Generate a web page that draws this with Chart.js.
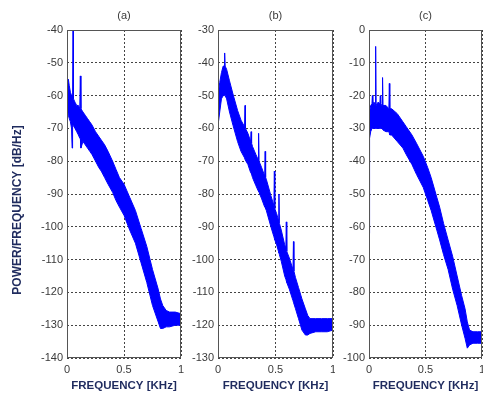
<!DOCTYPE html>
<html>
<head>
<meta charset="utf-8">
<title>Power spectral density</title>
<script src="https://cdn.jsdelivr.net/npm/chart.js@4.4.0/dist/chart.umd.min.js"></script>
<style>
    html, body { margin: 0; padding: 0; background: #ffffff; }
    #wrap { position: relative; width: 483px; height: 394px; overflow: hidden; }
    #wrap canvas { position: absolute; top: 0; }
</style>
</head>
<body>
<div id="wrap">
    <canvas id="chartA" width="190" height="394" style="left:0px"></canvas>
    <canvas id="chartB" width="145" height="394" style="left:190px"></canvas>
    <canvas id="chartC" width="148" height="394" style="left:335px"></canvas>
</div>
<script>
// Frequency axis ticks (kHz)
const xTicks = [0, 0.5, 1];

// Panel (a) - upper / lower edge of the noisy PSD band
const yTicksA = [-140, -130, -120, -110, -100, -90, -80, -70, -60, -50, -40];
const freqA = [0, 0.004, 0.012, 0.02, 0.03, 0.04, 0.045, 0.049, 0.053, 0.057,
    0.07, 0.085, 0.1, 0.112, 0.117, 0.122, 0.14, 0.16, 0.18, 0.2,
    0.22, 0.25, 0.28, 0.3, 0.33, 0.36, 0.4, 0.43, 0.46, 0.5,
    0.55, 0.6, 0.65, 0.7, 0.75, 0.8, 0.82, 0.84, 0.87, 0.9,
    0.95, 1];
const upperA = [-60, -56, -55, -57, -59, -60, -60, -61, -40, -61,
    -62, -63, -63, -64, -54, -64, -65, -66, -67, -68,
    -69, -71, -72.5, -73.5, -75, -77, -80, -82.5, -85, -87,
    -91, -95, -100.5, -106, -113, -119, -122, -124, -125.5, -126,
    -126, -126.5];
const lowerA = [-112, -64, -66, -67, -68, -70, -76, -69, -69, -69,
    -70, -71, -72, -73, -73, -76, -74, -75, -76, -77,
    -78, -80, -82, -83, -85, -87, -89.5, -92, -94, -96.5,
    -101, -105, -111, -117, -124, -129, -131, -131, -130.5, -130.5,
    -130, -130];

// Panel (b)
const yTicksB = [-130, -120, -110, -100, -90, -80, -70, -60, -50, -40, -30];
const freqB = [0, 0.004, 0.015, 0.03, 0.045, 0.054, 0.058, 0.062, 0.075, 0.1,
    0.13, 0.17, 0.2, 0.231, 0.235, 0.239, 0.26, 0.284, 0.288, 0.292,
    0.3, 0.33, 0.349, 0.353, 0.357, 0.38, 0.406, 0.41, 0.414, 0.42,
    0.46, 0.486, 0.49, 0.494, 0.51, 0.526, 0.53, 0.534, 0.55, 0.58,
    0.59, 0.594, 0.598, 0.62, 0.652, 0.656, 0.66, 0.674, 0.7, 0.73,
    0.76, 0.78, 0.8, 0.85, 0.9, 0.95, 1];
const upperB = [-51, -49, -46, -43, -41, -41, -37, -41, -42, -45.5,
    -49.5, -54.5, -57.5, -59.5, -53, -60, -61.5, -64, -61, -64.5,
    -65.5, -68, -69.5, -61.5, -70, -72, -74.5, -67, -75, -75.5,
    -80.5, -83.5, -73, -84.5, -86, -88, -80, -89, -91, -95.5,
    -96.5, -88.5, -97.5, -99.5, -103, -94.5, -103.5, -105.5, -108.5, -112,
    -115, -117, -118, -118, -118, -118, -118];
const lowerB = [-88, -58, -55, -51, -50, -50, -50, -50, -51, -55,
    -59, -64, -67, -69, -69.5, -69.5, -71, -73.5, -73.5, -74,
    -75, -77.5, -79, -79, -79.5, -81.5, -84, -84, -84.5, -85,
    -90, -93, -93.5, -94, -95.5, -97.5, -98, -98.5, -100.5, -105,
    -106, -106.5, -107, -109, -112.5, -113, -113, -115, -118, -121.5,
    -123, -123, -122.5, -122, -122, -122, -121.5];

// Panel (c)
const yTicksC = [-100, -90, -80, -70, -60, -50, -40, -30, -20, -10, 0];
const freqC = [0, 0.005, 0.015, 0.026, 0.03, 0.034, 0.045, 0.055, 0.059, 0.063,
    0.08, 0.096, 0.1, 0.104, 0.116, 0.12, 0.124, 0.15, 0.176, 0.18,
    0.184, 0.2, 0.25, 0.3, 0.33, 0.38, 0.42, 0.48, 0.52, 0.55,
    0.6, 0.625, 0.66, 0.7, 0.74, 0.78, 0.82, 0.85, 0.87, 0.89,
    0.92, 0.96, 1];
const upperC = [-30, -25, -23, -22.5, -20, -22.5, -22, -23, -5, -23,
    -22, -22.5, -20, -22.5, -23, -14.5, -23, -23, -24, -16.3,
    -24, -24, -25.5, -28, -29.5, -32, -34.5, -38.5, -42, -45,
    -51, -54, -59, -64, -69, -75, -81, -85, -89, -91.5,
    -92, -92, -92];
const lowerC = [-62, -33, -31, -30, -30, -30, -30, -30, -30, -30,
    -30, -30, -30, -30, -30, -30, -30.5, -31, -31, -31.5,
    -32, -32, -34, -36, -38, -41, -44, -48, -52, -55,
    -61, -64, -68.5, -73, -79, -84, -90, -94, -97, -96,
    -95.5, -95.5, -95.5];

const BLUE = '#0000ff';
const NAVY = '#1f2b5e';
const TICK = '#3a3a3a';
const GRID = '#444444';
const FONT = "'Liberation Sans', Arial, sans-serif";

// solid box around the plot area
const framePlugin = {
    id: 'frame',
    afterDatasetsDraw(chart) {
        const a = chart.chartArea;
        const ctx = chart.ctx;
        ctx.save();
        ctx.strokeStyle = '#555555';
        ctx.lineWidth = 1;
        ctx.strokeRect(Math.round(a.left) + 0.5, Math.round(a.top) + 0.5,
            Math.round(a.right - a.left) - 1, Math.round(a.bottom - a.top) - 1);
        ctx.restore();
    }
};

// shared y label, only on the first panel
const yLabelPlugin = {
    id: 'yLabel',
    afterDraw(chart) {
        const ctx = chart.ctx;
        ctx.save();
        ctx.translate(18, 210);
        ctx.rotate(-Math.PI / 2);
        ctx.font = 'bold 12px ' + FONT;
        ctx.fillStyle = NAVY;
        ctx.textAlign = 'center';
        ctx.textBaseline = 'middle';
        ctx.fillText('POWER/FREQUENCY [dB/Hz]', 0, 0);
        ctx.restore();
    }
};

function makePanel(id, label, freq, upper, lower, yTicks, yAxisWidth, rightPad, extra) {
    const canvas = document.getElementById(id);
    const toPoints = function (vals) {
        return freq.map(function (f, i) { return { x: f, y: vals[i] }; });
    };

    new Chart(canvas, {
        type: 'line',
        data: {
            datasets: [{
                data: toPoints(upper),
                xAxisID: 'x',
                borderColor: BLUE,
                backgroundColor: BLUE,
                borderWidth: 1,
                pointRadius: 0,
                tension: 0,
                fill: false
            }, {
                data: toPoints(lower),
                xAxisID: 'x',
                borderColor: BLUE,
                backgroundColor: BLUE,
                borderWidth: 1,
                pointRadius: 0,
                tension: 0,
                fill: '-1'
            }]
        },
        options: {
            responsive: false,
            animation: false,
            layout: { padding: { left: 0, right: rightPad, top: 0, bottom: 0 } },
            plugins: {
                legend: { display: false },
                tooltip: { enabled: false }
            },
            scales: {
                x: {
                    type: 'linear',
                    position: 'bottom',
                    min: xTicks[0],
                    max: xTicks[xTicks.length - 1],
                    afterBuildTicks: function (s) {
                        s.ticks = xTicks.map(function (v) { return { value: v }; });
                    },
                    ticks: {
                        padding: 5,
                        maxRotation: 0,
                        color: TICK,
                        font: { size: 11, family: FONT },
                        callback: function (v) { return String(v); }
                    },
                    grid: { color: GRID, drawTicks: false },
                    border: { display: false, dash: [2, 2] },
                    title: {
                        display: true,
                        text: 'FREQUENCY [KHz]',
                        color: NAVY,
                        font: { size: 11.5, weight: 'bold', family: FONT },
                        padding: { top: 0, bottom: 1.5 }
                    },
                    afterFit: function (s) {
                        s.height = 36;
                        s.paddingLeft = 0;
                        s.paddingRight = 0;
                    }
                },
                top: {
                    type: 'linear',
                    position: 'top',
                    min: 0,
                    max: 1,
                    ticks: { display: false },
                    grid: { display: false },
                    border: { display: false },
                    title: {
                        display: true,
                        text: label,
                        color: TICK,
                        font: { size: 11, family: FONT },
                        padding: { top: 9.5, bottom: 0 }
                    },
                    afterFit: function (s) { s.height = 30; }
                },
                y: {
                    type: 'linear',
                    min: yTicks[0],
                    max: yTicks[yTicks.length - 1],
                    afterBuildTicks: function (s) {
                        s.ticks = yTicks.map(function (v) { return { value: v }; });
                    },
                    ticks: {
                        padding: 4,
                        color: TICK,
                        font: { size: 11, family: FONT }
                    },
                    grid: { color: GRID, drawTicks: false },
                    border: { display: false, dash: [2, 2] },
                    afterFit: function (s) { s.width = yAxisWidth; }
                }
            }
        },
        plugins: [framePlugin].concat(extra || [])
    });
}

document.addEventListener('DOMContentLoaded', function () {
    makePanel('chartA', '(a)', freqA, upperA, lowerA, yTicksA, 67, 9, [yLabelPlugin]);
    makePanel('chartB', '(b)', freqB, upperB, lowerB, yTicksB, 28, 2);
    makePanel('chartC', '(c)', freqC, upperC, lowerC, yTicksC, 34, 1);
});
</script>
</body>
</html>
